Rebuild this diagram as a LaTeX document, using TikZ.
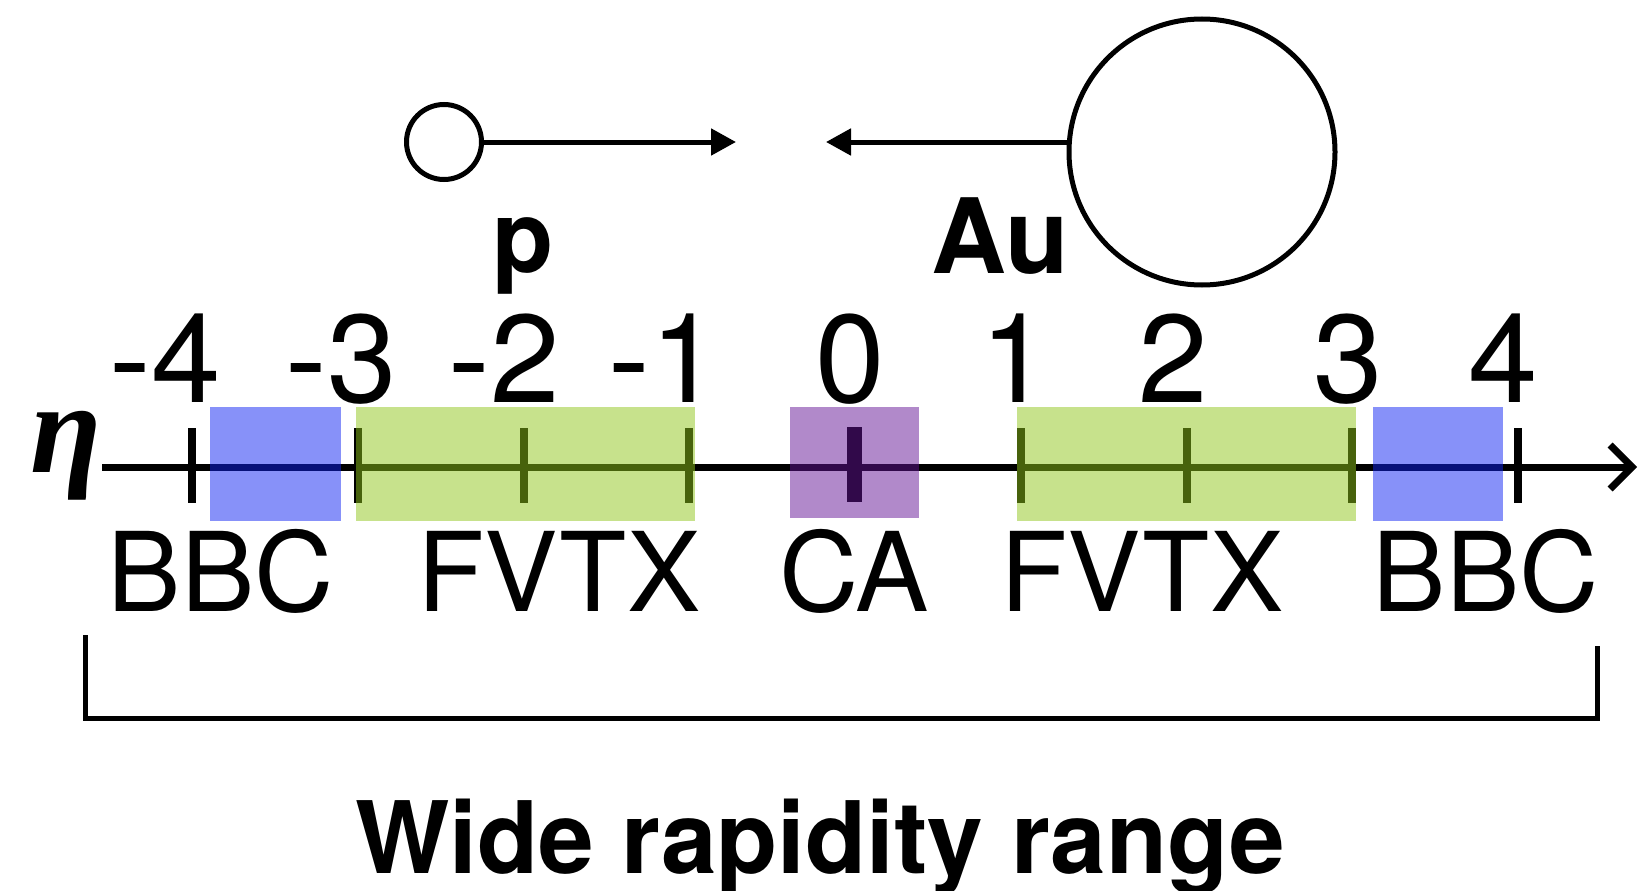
\documentclass[tikz,border=0pt]{standalone}
\usepackage{fontspec}
\setmainfont{TeX Gyre Heros}
\newfontfamily\etafont{Liberation Serif}
\usetikzlibrary{arrows.meta}
\definecolor{bbcblue}{RGB}{15,35,243}
\definecolor{fvtxgreen}{RGB}{143,197,25}
\definecolor{capurple}{RGB}{99,19,149}
\tikzset{
  detbox/.style={opacity=0.5},
  tickmark/.style={line width=8pt},
  ticklabel/.style={anchor=base, inner sep=0pt, font=\fontsize{125}{125}\selectfont},
  detlabel/.style={anchor=base, inner sep=0pt, font=\fontsize{110}{110}\selectfont},
  boldlabel/.style={anchor=base, inner sep=0pt, font=\fontsize{100}{100}\selectfont\bfseries},
  ball/.style={circle, draw, line width=5pt, inner sep=0pt},
  beam/.style={line width=5pt, -{Triangle[length=25pt,width=26pt]}},
}
\begin{document}
\begin{tikzpicture}[x=1pt,y=-1pt]
\useasboundingbox (0,0) rectangle (1639,891);

% beams
\node[ball, minimum size=75pt] (p) at (444,142) {};
\coordinate (pT) at (736,142);
\draw[beam] (p) -- (pT);
\node[ball, minimum size=266pt] (Au) at (1202,152) {};
\coordinate (auS) at (1070,142);
\coordinate (auT) at (826,142);
\draw[beam] (auS) -- (auT);
\node[boldlabel] (plab) at (523,272) {p};
\node[boldlabel, font=\fontsize{104}{104}\selectfont\bfseries] (aulab) at (1000,273) {Au};

% axis
\node[anchor=base, inner sep=0pt, font=\fontsize{130}{130}\selectfont\etafont\bfseries\itshape] (eta) at (66,472) {η};
\coordinate (axL) at (102,467);
\coordinate (axR) at (1637,467);
\draw[line width=7pt, -{Straight Barb[length=22pt,width=44pt]}] (axL) -- (axR);
\foreach \k in {-4,-3,-2,-1,1,2,3,4}
  \draw[tickmark] ({855+165.75*\k},428) -- ({855+165.75*\k},503);
\draw[line width=15pt] (854,427) -- (854,502);

% detector boxes
\fill[bbcblue, detbox] (210,407) rectangle (341,521);
\fill[fvtxgreen, detbox] (356,407) rectangle (695,521);
\fill[capurple, detbox] (790,407) rectangle (919,518);
\fill[fvtxgreen, detbox] (1017,407) rectangle (1356,521);
\fill[bbcblue, detbox] (1373,407) rectangle (1503,521);

% tick labels
\node[ticklabel] (lm4) at (186,402) {\llap{-}4};
\node[ticklabel] (lm3) at (362,402) {\llap{-}3};
\node[ticklabel] (lm2) at (525,402) {\llap{-}2};
\node[ticklabel] (lm1) at (685,402) {\llap{-}1};
\node[ticklabel] (l0) at (850,402) {0};
\node[ticklabel] (l1) at (1015,402) {1};
\node[ticklabel] (l2) at (1173,402) {2};
\node[ticklabel] (l3) at (1348,402) {3};
\node[ticklabel] (l4) at (1503,402) {4};

% detector labels
\node[detlabel] (bbcL) at (221,611) {BBC};
\node[detlabel] (fvtxL) at (559,611) {FVTX};
\node[detlabel] (ca) at (854,611) {CA};
\node[detlabel] (fvtxR) at (1142,611) {FVTX};
\node[detlabel] (bbcR) at (1486,611) {BBC};

% bracket
\coordinate (brL) at (85,635);
\coordinate (brLb) at (85,718);
\coordinate (brRb) at (1597,718);
\coordinate (brR) at (1597,646);
\draw[line width=5pt] (brL) -- (brLb) -- (brRb) -- (brR);

\node[boldlabel] (title) at (820,873) {Wide rapidity range};
\end{tikzpicture}
\end{document}
